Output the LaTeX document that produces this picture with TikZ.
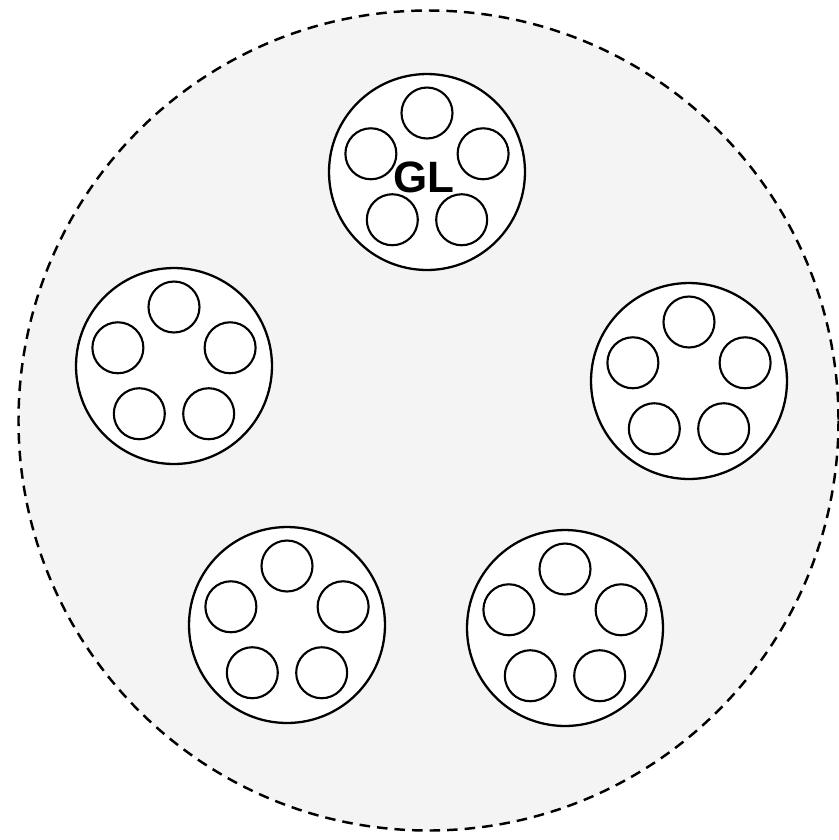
\documentclass[tikz,border=0pt]{standalone}
\usepackage{fontspec}
\setsansfont{Liberation Sans}
\usepackage{tikz}
\usetikzlibrary{positioning, calc}

\begin{document}
\begin{tikzpicture}[x=0.02cm, y=-0.02cm,
  bundle/.style={circle, draw=black, fill=white, line width=1.3pt,
                 inner sep=0pt, minimum size=3.92cm},
  strand/.style={circle, draw=black, fill=white, line width=1.2pt,
                 inner sep=0pt, minimum size=1.02cm},
  tag/.style={font=\sffamily\bfseries\fontsize{25}{25}\selectfont}
]
  \useasboundingbox (0,0) rectangle (839,840);

  % Outer sheath
  \draw[fill=gray!9, line width=1.4pt, dash pattern=on 6pt off 4pt]
    (428.5,420.5) circle (410);

  % Bundles with five strands each
  \foreach \name/\cx/\cy in {top/427/172, left/174/366, right/689/381,
                             botl/287/625, botr/565/628} {
    \node[bundle] (\name) at (\cx,\cy) {};
    \foreach \k in {0,...,4} {
      \node[strand] (\name-\k) at ($(\cx,\cy)+({-90+72*\k}:59)$) {};
    }
  }

  % Label
  \node[tag] (gl) at (424,177) {GL};
\end{tikzpicture}
\end{document}
